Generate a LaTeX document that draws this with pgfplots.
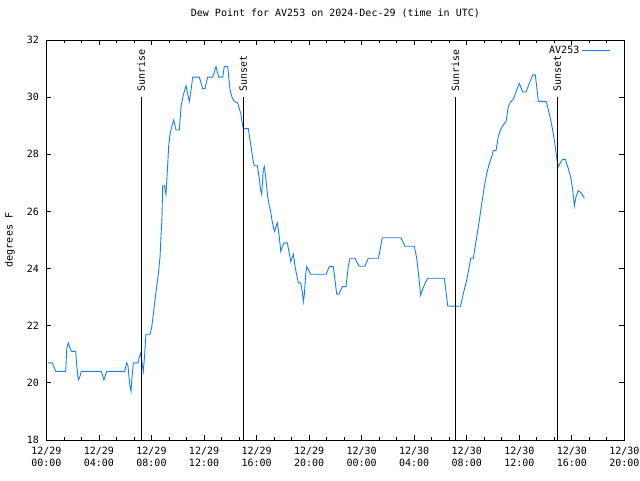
\documentclass[border=0pt]{standalone}
\usepackage{fontspec}
\setmainfont{DejaVu Sans Mono}
\usepackage{pgfplots}
\usepackage{pgfplotstable}
\pgfplotsset{compat=1.18}
\definecolor{dp}{RGB}{16,128,255}

\pgfplotstableread{
h v
0.12 20.7
0.45 20.7
0.71 20.4
1.47 20.4
1.55 21.2
1.67 21.4
1.74 21.3
1.90 21.1
2.23 21.1
2.31 20.6
2.43 20.1
2.54 20.2
2.66 20.4
4.18 20.4
4.38 20.1
4.59 20.4
5.96 20.4
6.11 20.7
6.21 20.6
6.29 20.2
6.36 19.9
6.44 19.7
6.52 20.2
6.62 20.7
6.97 20.7
7.07 20.9
7.18 21.05
7.28 20.7
7.38 20.4
7.48 21.0
7.58 21.7
7.89 21.7
8.02 21.96
8.14 22.4
8.27 22.9
8.40 23.4
8.52 23.8
8.65 24.4
8.72 25.1
8.80 25.8
8.85 26.9
8.98 26.9
9.10 26.6
9.23 27.6
9.31 28.3
9.41 28.7
9.56 29.0
9.69 29.2
9.87 28.85
10.12 28.85
10.25 29.67
10.42 30.07
10.63 30.4
10.76 30.1
10.88 29.85
11.01 30.25
11.14 30.7
11.64 30.7
11.90 30.3
12.07 30.3
12.28 30.7
12.66 30.7
12.91 31.07
13.12 30.7
13.42 30.7
13.54 31.07
13.80 31.07
13.98 30.25
14.13 30.0
14.30 29.85
14.56 29.8
14.81 29.4
14.94 29.0
14.99 28.9
15.37 28.9
15.50 28.5
15.63 28.1
15.75 27.74
15.83 27.6
16.06 27.6
16.19 27.2
16.31 26.75
16.39 26.6
16.51 27.45
16.59 27.57
16.72 27.1
16.85 26.5
16.97 26.2
17.07 26.0
17.17 25.7
17.30 25.4
17.38 25.3
17.48 25.47
17.58 25.6
17.73 25.1
17.84 24.6
17.96 24.77
18.09 24.9
18.34 24.9
18.49 24.53
18.60 24.24
18.72 24.4
18.80 24.5
18.93 24.07
19.05 23.78
19.18 23.5
19.36 23.5
19.48 23.19
19.56 22.84
19.63 23.07
19.74 23.78
19.82 24.07
20.12 23.8
21.29 23.8
21.54 24.07
21.84 24.07
21.97 23.6
22.10 23.1
22.27 23.1
22.53 23.37
22.81 23.37
22.98 24.07
23.11 24.36
23.49 24.36
23.80 24.08
24.25 24.08
24.50 24.36
25.27 24.36
25.40 24.65
25.57 25.08
26.99 25.08
27.30 24.78
28.01 24.78
28.19 24.36
28.36 23.66
28.49 23.07
28.57 23.19
28.82 23.48
29.03 23.66
30.29 23.66
30.42 23.19
30.55 22.69
31.52 22.68
31.74 23.13
32.00 23.6
32.19 24.07
32.30 24.36
32.50 24.36
32.70 24.94
32.96 25.7
33.14 26.28
33.34 26.87
33.52 27.33
33.72 27.68
33.90 27.92
34.02 28.13
34.23 28.13
34.40 28.62
34.58 28.87
34.78 29.03
34.99 29.14
35.16 29.67
35.35 29.84
35.54 29.92
35.75 30.19
36.00 30.48
36.26 30.18
36.51 30.18
36.76 30.48
37.02 30.78
37.22 30.78
37.45 29.85
38.04 29.85
38.28 29.43
38.49 28.97
38.70 28.39
38.85 27.86
38.97 27.57
39.10 27.68
39.30 27.82
39.50 27.82
39.73 27.5
39.91 27.2
40.07 26.75
40.19 26.19
40.32 26.52
40.49 26.73
40.75 26.63
40.95 26.46
}\dewdata

\begin{document}
\begin{tikzpicture}[font=\fontsize{10}{12}\selectfont]
\begin{axis}[
  scale only axis, width=578pt, height=400pt,
  xmin=0, xmax=44, ymin=18, ymax=32,
  xtick={0,4,...,44},
  xticklabels={{12/29\\00:00},{12/29\\04:00},{12/29\\08:00},{12/29\\12:00},{12/29\\16:00},{12/29\\20:00},{12/30\\00:00},{12/30\\04:00},{12/30\\08:00},{12/30\\12:00},{12/30\\16:00},{12/30\\20:00}},
  xticklabel style={align=center, yshift=-4pt, font=\fontsize{10}{11.5}\selectfont},
  minor x tick num=2,
  ytick={18,20,...,32},
  yticklabel style={xshift=-4pt},
  /pgf/number format/assume math mode=true,
  tick align=inside,
  xtick pos=both, ytick pos=both,
  major tick length=5pt, minor tick length=3pt,
  tick style={black, line width=0.8pt},
  axis line style={black, line width=0.8pt},
  title={Dew Point for AV253 on 2024-Dec-29 (time in UTC)},
  title style={at={(axis description cs:0.5,1.0525)}, anchor=center, inner sep=0pt},
  ylabel={degrees F},
  ylabel style={at={(axis description cs:-0.063,0.5)}, anchor=center, inner sep=0pt},
  legend style={draw=none, fill=none, at={(axis description cs:1,1)}, anchor=north east, xshift=-11pt, yshift=-2pt},
  legend cell align=right,
  legend plot pos=right,
  legend image code/.code={\draw[#1] (0pt,0pt) -- (28pt,0pt);},
]
\addplot[dp, line width=0.9pt] table[x=h, y=v] {\dewdata};
\addlegendentry{AV253}
\addplot[black, line width=0.8pt, forget plot] coordinates {(7.22,18) (7.22,30)};
\addplot[black, line width=0.8pt, forget plot] coordinates {(14.99,18) (14.99,30)};
\addplot[black, line width=0.8pt, forget plot] coordinates {(31.13,18) (31.13,30)};
\addplot[black, line width=0.8pt, forget plot] coordinates {(38.89,18) (38.89,30)};
\node[rotate=90, anchor=west, inner sep=0pt] at (axis cs:7.22,30.18) {Sunrise};
\node[rotate=90, anchor=west, inner sep=0pt] at (axis cs:14.99,30.18) {Sunset};
\node[rotate=90, anchor=west, inner sep=0pt] at (axis cs:31.13,30.18) {Sunrise};
\node[rotate=90, anchor=west, inner sep=0pt] at (axis cs:38.89,30.18) {Sunset};
\end{axis}
\pgfresetboundingbox
\path ([shift={(-46.4pt,-40pt)}]current axis.south west) rectangle ([shift={(15.6pt,40pt)}]current axis.north east);
\end{tikzpicture}
\end{document}
